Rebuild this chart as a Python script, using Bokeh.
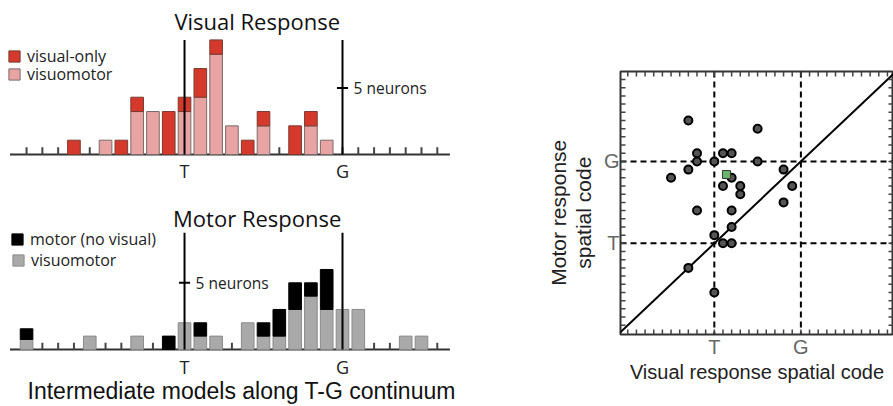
from bokeh.plotting import figure
from bokeh.models import (Range1d, ColumnDataSource, Legend, LegendItem, LinearAxis,
                          FixedTicker, Span, Slope)
from bokeh.layouts import row, column
from bokeh.embed import file_html
from bokeh.resources import INLINE
from bokeh.core.properties import value
import math

# ---------------- data ----------------
# model positions along the T-G continuum (T = 0, G = 10)
tick_positions = list(range(-10, 17))
landmark_positions = [0, 10]
landmark_labels = ["T", "G"]

visual_positions = [-7, -5, -4, -3, -2, -1, 0, 1, 2, 3, 4, 5, 7, 8, 9]
visual_visuomotor = [0, 1, 0, 3, 3, 0, 3, 4, 7, 2, 0, 2, 0, 2, 1]
visual_only = [1, 0, 1, 1, 0, 3, 1, 2, 1, 0, 1, 1, 2, 1, 0]

motor_positions = [-10, -6, -3, -1, 0, 1, 2, 4, 5, 6, 7, 8, 9, 10, 11, 14, 15]
motor_visuomotor = [0.75, 1, 1, 0, 2, 1, 1, 2, 1, 1, 3, 4, 3, 3, 3, 1, 1]
motor_only = [0.8, 0, 0, 1, 0, 1, 0, 0, 1, 2, 2, 1, 3, 0, 0, 0, 0]

# scatter: T = 0, G = 1
scatter_landmarks = [0, 1]
scatter_visual = [-0.3, 0.5, -0.2, 0.1, 0.2, -0.2, 0.0, 0.5, -0.3, -0.5, 0.8, 0.2, 0.1,
                  0.3, 0.3, 0.9, 0.8, -0.2, 0.2, 0.2, 0.0, 0.1, 0.2, -0.3, 0.0]
scatter_motor = [1.5, 1.4, 1.1, 1.1, 1.1, 1.0, 1.0, 1.0, 0.9, 0.8, 0.9, 0.8, 0.7,
                 0.7, 0.6, 0.7, 0.5, 0.4, 0.4, 0.2, 0.1, 0.0, 0.0, -0.3, -0.6]
example_visual = [0.14]
example_motor = [0.84]
scatter_minor_ticks = [round(-1.0 + 0.1 * i, 1) for i in range(31)]

FONT = "Open Sans"
AFONT = "Liberation Sans"


def histogram(height, y_lo, y_hi, pos, base, extra, base_color, extra_color,
              base_line, extra_line, labels, title, title_y, lm_y, line_top,
              scale_x, scale_y, legend_ys):
    p = figure(width=460, height=height, x_range=Range1d(-11.65, 17.47),
               y_range=Range1d(y_lo, y_hi), min_border=0, output_backend="svg",
               toolbar_location=None, x_axis_type=None, y_axis_type=None)
    p.outline_line_color = None
    p.xgrid.visible = False
    p.ygrid.visible = False
    # baseline axis and ticks
    p.segment(x0=[min(tick_positions) - 1.05], y0=[0], x1=[max(tick_positions) + 0.8], y1=[0],
              line_color="#333333", line_width=2)
    p.segment(x0=tick_positions, y0=[0] * len(tick_positions), x1=tick_positions,
              y1=[0.5] * len(tick_positions), line_color="#444444", line_width=2)
    b_src = ColumnDataSource(dict(x=[x for x, b in zip(pos, base) if b > 0],
                                  top=[b for b in base if b > 0]))
    e_src = ColumnDataSource(dict(x=[x for x, e in zip(pos, extra) if e > 0],
                                  bottom=[b for b, e in zip(base, extra) if e > 0],
                                  top=[b + e for b, e in zip(base, extra) if e > 0]))
    rb = p.vbar(x="x", top="top", bottom=0, width=0.8, source=b_src,
                fill_color=base_color, line_color=base_line, line_width=1)
    re = p.vbar(x="x", top="top", bottom="bottom", width=0.8, source=e_src,
                fill_color=extra_color, line_color=extra_line, line_width=1)
    # T and G lines
    p.segment(x0=landmark_positions, y0=[0, 0], x1=landmark_positions,
              y1=[line_top, line_top], line_color="black", line_width=2)
    p.segment(x0=[scale_x - 0.35], y0=[scale_y], x1=[scale_x + 0.35], y1=[scale_y],
              line_color="black", line_width=2)
    p.text(x=[scale_x + 0.7], y=[scale_y], text=["5 neurons"], text_font=value(FONT),
           text_font_size="15.5px", text_baseline="middle", text_color="#222222")
    p.text(x=landmark_positions, y=[lm_y] * 2, text=landmark_labels,
           text_font=value(FONT), text_font_size="18px", text_align="center",
           text_baseline="middle", text_color="#222222")
    p.text(x=[4.6], y=[title_y], text=[title], text_font=value(FONT), text_font_size="22px",
           text_align="center", text_baseline="middle", text_color="#111111")
    for lab, rend, ly in ((labels[1], re, legend_ys[0]), (labels[0], rb, legend_ys[1])):
        lg = Legend(items=[LegendItem(label=lab, renderers=[rend])],
                    location=ly, glyph_width=14, glyph_height=14, label_height=14,
                    spacing=0, padding=0, margin=0, label_standoff=6,
                    border_line_color=None, background_fill_alpha=0,
                    label_text_font=FONT, label_text_font_size="16px",
                    label_text_color="#222222")
        p.add_layout(lg)
    return p


top = histogram(195, -2.86, 10.75, visual_positions, visual_visuomotor, visual_only,
                "#e7a4a3", "#d4392b", "#7a6a6a", "#7a3a30",
                ["visuomotor", "visual-only"], "Visual Response", 9.35, -1.12, 8, 10, 4.65,
                [(7, 128), (7, 110)])

bot = histogram(211, -4.28, 11.55, motor_positions, motor_visuomotor, motor_only,
                "#a9a9a9", "#000000", "#8a8a8a", "#000000",
                ["visuomotor", "motor (no visual)"], "Motor Response", 9.83, -1.28, 8.75, 0, 5,
                [(10, 156), (11, 135)])
bot.text(x=[-9.94], y=[-3.15], text=["Intermediate models along T-G continuum"],
         text_font=value(AFONT), text_font_size="23px", text_baseline="middle",
         text_color="#111111")

# ---------------- y label of the scatter (own narrow panel) ----------------
ylab = figure(width=140, height=406, x_range=Range1d(460, 600), y_range=Range1d(0, 406),
              min_border=0, output_backend="svg", toolbar_location=None,
              x_axis_type=None, y_axis_type=None)
ylab.outline_line_color = None
ylab.xgrid.visible = False
ylab.ygrid.visible = False
ylab.text(x=[558, 583], y=[188, 188], text=["Motor response", "spatial code"],
          angle=math.pi / 2, text_align="center", text_baseline="middle",
          text_font=value(AFONT), text_font_size="21px", text_color="#222222")

# ---------------- scatter ----------------
x_lo, x_hi = -1.084, 2.07
y_lo, y_hi = -1.113, 2.098
sc = figure(width=293, height=406, x_range=Range1d(x_lo, x_hi),
            y_range=Range1d(y_lo, y_hi), min_border_left=19, min_border_right=0,
            min_border_top=71, min_border_bottom=72, output_backend="svg",
            toolbar_location=None, x_axis_type=None, y_axis_type=None)
sc.xgrid.visible = False
sc.ygrid.visible = False
sc.outline_line_color = "#333333"
sc.outline_line_width = 2


def make_axis(label=None):
    ax = LinearAxis(ticker=FixedTicker(ticks=scatter_landmarks),
                    major_label_overrides={0: "T", 1: "G"}, axis_line_color=None,
                    major_tick_in=0, major_tick_out=0, minor_tick_in=0, minor_tick_out=0,
                    major_label_text_font=AFONT, major_label_text_font_size="20px",
                    major_label_text_color="#666666", major_label_standoff=1)
    if label:
        ax.axis_label = label
        ax.axis_label_text_font = AFONT
        ax.axis_label_text_font_size = "20px"
        ax.axis_label_text_font_style = "normal"
        ax.axis_label_text_color = "#222222"
        ax.axis_label_standoff = 0
    return ax


sc.add_layout(make_axis("Visual response spatial code"), "below")
sc.add_layout(make_axis(), "left")

# inward tick marks on all four sides
n = len(scatter_minor_ticks)
tlx = 0.058
tly = 0.061
tick_kw = dict(line_color="#444444", line_width=1.5)
sc.segment(x0=scatter_minor_ticks, y0=[y_lo] * n, x1=scatter_minor_ticks, y1=[y_lo + tly] * n, **tick_kw)
sc.segment(x0=scatter_minor_ticks, y0=[y_hi] * n, x1=scatter_minor_ticks, y1=[y_hi - tly] * n, **tick_kw)
sc.segment(x0=[x_lo] * n, y0=scatter_minor_ticks, x1=[x_lo + tlx] * n, y1=scatter_minor_ticks, **tick_kw)
sc.segment(x0=[x_hi] * n, y0=scatter_minor_ticks, x1=[x_hi - tlx] * n, y1=scatter_minor_ticks, **tick_kw)

for loc in scatter_landmarks:
    sc.add_layout(Span(location=loc, dimension="height", line_color="black", line_width=2,
                       line_dash="6 4", level="underlay"))
    sc.add_layout(Span(location=loc, dimension="width", line_color="black", line_width=2,
                       line_dash="6 4", level="underlay"))
sc.add_layout(Slope(gradient=1, y_intercept=0, line_color="black", line_width=2,
                    level="underlay"))

sc.scatter(scatter_visual, scatter_motor, size=8, fill_color="#555555", line_color="black",
           line_width=2)
sc.scatter(example_visual, example_motor, marker="square", size=8, fill_color="#6cb36c",
           line_color="#333333", line_width=1)

layout = row(column(top, bot), ylab, sc)
open("out.html", "w").write(file_html(layout, INLINE))
